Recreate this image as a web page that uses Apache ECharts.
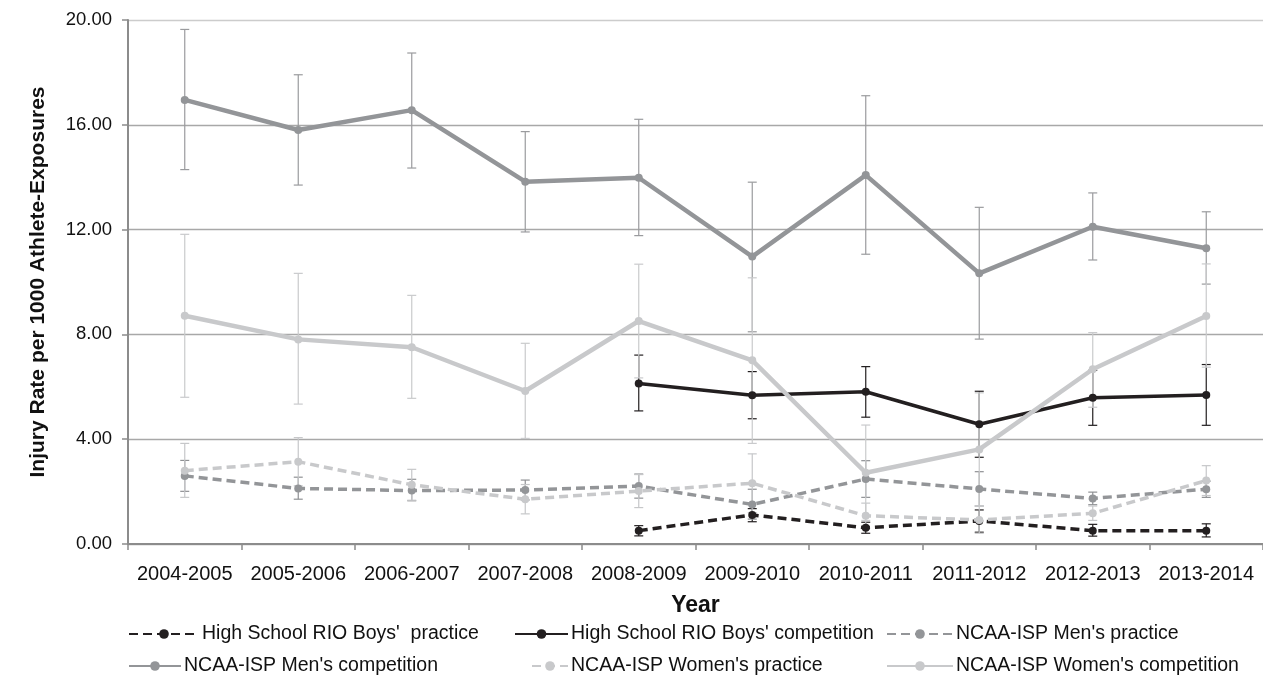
<!DOCTYPE html>
<html>
<head>
<meta charset="utf-8">
<script src="https://cdn.jsdelivr.net/npm/echarts@6/dist/echarts.min.js"></script>
<style>
html,body{margin:0;padding:0;background:#fff;}
#chart{width:1263px;height:678px;}
</style>
</head>
<body>
<div id="chart"></div>
<script>
const categories = ['2004-2005','2005-2006','2006-2007','2007-2008','2008-2009','2009-2010','2010-2011','2011-2012','2012-2013','2013-2014'];
const yTicks = [0, 4, 8, 12, 16, 20];

const hsPractice   = [null, null, null, null, 0.51, 1.11, 0.62, 0.88, 0.51, 0.51];
const hsPracticeLo = [null, null, null, null, 0.31, 0.85, 0.41, 0.45, 0.30, 0.27];
const hsPracticeHi = [null, null, null, null, 0.70, 1.35, 0.83, 1.30, 0.75, 0.77];

const hsComp   = [null, null, null, null, 6.13, 5.68, 5.81, 4.57, 5.58, 5.69];
const hsCompLo = [null, null, null, null, 5.08, 4.78, 4.84, 3.31, 4.53, 4.53];
const hsCompHi = [null, null, null, null, 7.21, 6.58, 6.77, 5.83, 6.63, 6.85];

const menPractice   = [2.60, 2.12, 2.04, 2.06, 2.21, 1.51, 2.48, 2.10, 1.74, 2.09];
const menPracticeLo = [2.01, 1.71, 1.65, 1.68, 1.75, 0.95, 1.78, 1.45, 1.50, 1.78];
const menPracticeHi = [3.19, 2.55, 2.47, 2.44, 2.67, 2.09, 3.18, 2.76, 1.98, 2.40];

const menComp   = [16.95, 15.80, 16.56, 13.83, 13.98, 10.97, 14.08, 10.33, 12.11, 11.29];
const menCompLo = [14.29, 13.70, 14.35, 11.91, 11.77, 8.10, 11.06, 7.82, 10.84, 9.92];
const menCompHi = [19.64, 17.91, 18.74, 15.74, 16.21, 13.81, 17.11, 12.85, 13.40, 12.68];

const womenPractice   = [2.80, 3.14, 2.26, 1.71, 2.02, 2.32, 1.08, 0.92, 1.17, 2.42];
const womenPracticeLo = [1.78, 2.22, 1.67, 1.15, 1.39, 1.20, 0.60, 0.41, 0.90, 1.85];
const womenPracticeHi = [3.84, 4.06, 2.85, 2.27, 2.65, 3.44, 1.56, 1.45, 1.45, 2.99];

const womenComp   = [8.71, 7.81, 7.51, 5.84, 8.51, 7.01, 2.72, 3.61, 6.67, 8.70];
const womenCompLo = [5.60, 5.34, 5.56, 4.03, 6.34, 3.84, 0.90, 1.45, 5.22, 6.75];
const womenCompHi = [11.82, 10.33, 9.49, 7.66, 10.68, 10.16, 4.54, 5.77, 8.07, 10.69];

const seriesNames = [
  "High School RIO Boys'  practice",
  "High School RIO Boys' competition",
  "NCAA-ISP Men's practice",
  "NCAA-ISP Men's competition",
  "NCAA-ISP Women's practice",
  "NCAA-ISP Women's competition"
];

const FONT = '"Liberation Sans", Arial, sans-serif';
const BLACK = '#231f20', MID = '#939598', LIGHT = '#c8c9cb';

const defs = [
  {name: seriesNames[0], v: hsPractice, lo: hsPracticeLo, hi: hsPracticeHi, color: BLACK, dash: [9,5], w: 3.5, ec: BLACK},
  {name: seriesNames[1], v: hsComp, lo: hsCompLo, hi: hsCompHi, color: BLACK, dash: 'solid', w: 3.5, ec: BLACK},
  {name: seriesNames[2], v: menPractice, lo: menPracticeLo, hi: menPracticeHi, color: MID, dash: [9,5], w: 3.5, ec: '#8f9194'},
  {name: seriesNames[3], v: menComp, lo: menCompLo, hi: menCompHi, color: MID, dash: 'solid', w: 4.5, ec: '#9a9b9e'},
  {name: seriesNames[4], v: womenPractice, lo: womenPracticeLo, hi: womenPracticeHi, color: LIGHT, dash: [9,5], w: 3.5, ec: '#c6c7c9'},
  {name: seriesNames[5], v: womenComp, lo: womenCompLo, hi: womenCompHi, color: LIGHT, dash: 'solid', w: 4.5, ec: '#c9cacc'}
];

function errData(lo, hi) {
  const out = [];
  categories.forEach((c, i) => { if (lo[i] != null && hi[i] != null) out.push([i, lo[i], hi[i]]); });
  return out;
}

function errRender(color) {
  return function (params, api) {
    const x = api.value(0);
    const top = api.coord([x, api.value(2)]);
    const bot = api.coord([x, api.value(1)]);
    const hw = 4.5;
    const st = {stroke: color, lineWidth: 1.2};
    return {
      type: 'group',
      children: [
        {type: 'line', shape: {x1: top[0], y1: top[1], x2: bot[0], y2: bot[1]}, style: st},
        {type: 'line', shape: {x1: top[0]-hw, y1: top[1], x2: top[0]+hw, y2: top[1]}, style: st},
        {type: 'line', shape: {x1: bot[0]-hw, y1: bot[1], x2: bot[0]+hw, y2: bot[1]}, style: st}
      ]
    };
  };
}

const series = [];
defs.forEach((d, k) => {
  series.push({
    name: d.name + ' err',
    type: 'custom',
    renderItem: errRender(d.ec),
    data: errData(d.lo, d.hi),
    z: 1 + k * 0.01,
    silent: true
  });
});
defs.forEach((d, k) => {
  series.push({
    name: d.name,
    type: 'line',
    data: d.v,
    symbol: 'circle',
    symbolSize: 8,
    connectNulls: false,
    lineStyle: {color: d.color, width: d.w, type: d.dash},
    itemStyle: {color: d.color},
    z: 3 + k * 0.1,
    animation: false
  });
});

// legend positions: [iconLeft, iconWidth, textCenterY]
const legendPos = [
  [128, 70, 633],
  [514, 53, 633],
  [886, 66, 633],
  [128, 52, 665],
  [531, 36, 665],
  [886, 66, 665]
];
const legends = legendPos.map((p, i) => ({
  data: [seriesNames[i]],
  left: p[0],
  top: p[2] - 9,
  padding: 0,
  itemWidth: p[1],
  itemHeight: 12,
  itemGap: 0,
  textStyle: {fontFamily: FONT, fontSize: 19.5, color: '#111', padding: [0, 0, 0, -2]},
  selectedMode: false
}));

const chart = echarts.init(document.getElementById('chart'), null, {renderer: 'canvas'});
chart.setOption({
  animation: false,
  backgroundColor: '#fff',
  grid: {left: 128, right: -11, top: 20, bottom: 134, containLabel: false},
  legend: legends,
  xAxis: {
    type: 'category',
    data: categories,
    name: 'Year',
    nameLocation: 'middle',
    nameGap: 50,
    nameTextStyle: {fontFamily: FONT, fontSize: 23, fontWeight: 'bold', color: '#111'},
    axisLine: {lineStyle: {color: '#8c8c8c', width: 2}},
    axisTick: {show: true, interval: 0, length: 6, lineStyle: {color: '#8c8c8c', width: 1.5}},
    axisLabel: {interval: 0, fontFamily: FONT, fontSize: 20, color: '#111', margin: 20}
  },
  yAxis: {
    type: 'value',
    min: yTicks[0],
    max: yTicks[yTicks.length - 1],
    interval: 4,
    name: 'Injury Rate per 1000 Athlete-Exposures',
    nameLocation: 'middle',
    nameGap: 79,
    nameTextStyle: {fontFamily: FONT, fontSize: 21, fontWeight: 'bold', color: '#111'},
    axisLine: {show: true, lineStyle: {color: '#8c8c8c', width: 2}},
    axisTick: {show: true, length: 6, lineStyle: {color: '#8c8c8c', width: 1.5}},
    axisLabel: {fontFamily: FONT, fontSize: 18.5, color: '#111', margin: 16, formatter: v => v.toFixed(2)},
    splitLine: {show: true, lineStyle: {color: ['#a8a8a8','#a8a8a8','#a8a8a8','#a8a8a8','#a8a8a8','#cccccc'], width: 1.3}}
  },
  series: series
});
</script>
</body>
</html>
